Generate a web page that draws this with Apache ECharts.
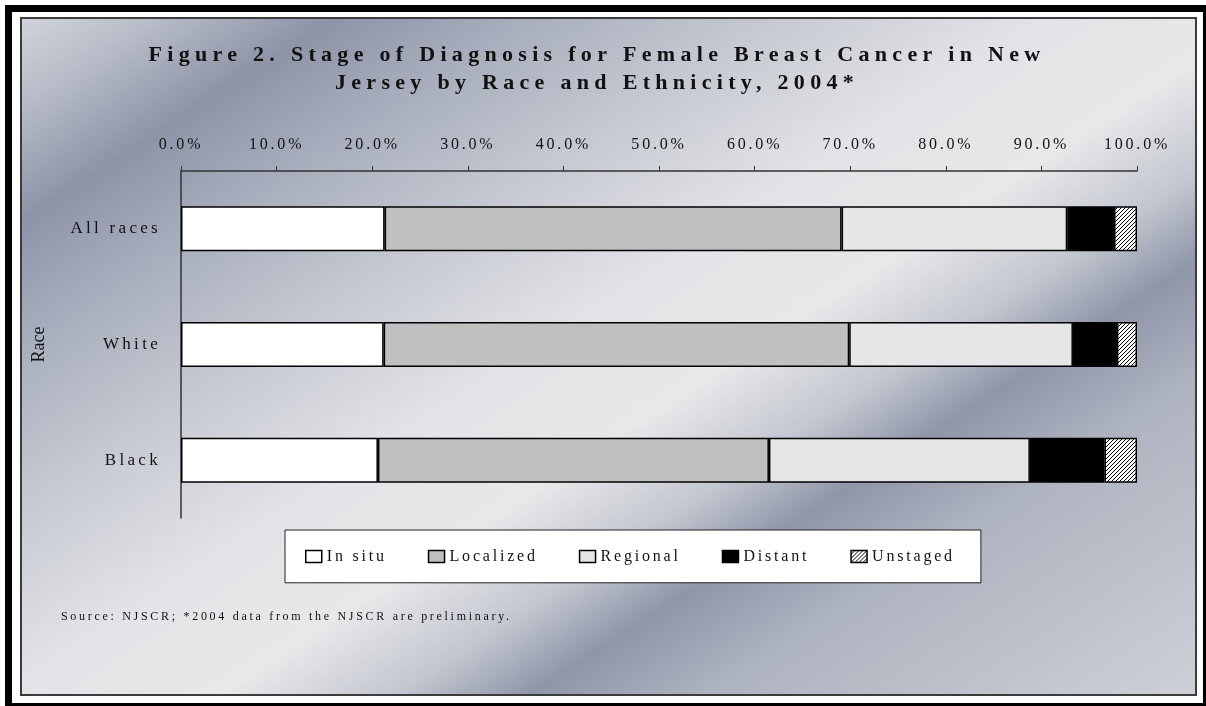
<!DOCTYPE html>
<html>
<head>
<meta charset="utf-8">
<title>Stage of Diagnosis for Female Breast Cancer in New Jersey</title>
<script src="https://cdn.jsdelivr.net/npm/echarts@6/dist/echarts.min.js"></script>
<style>
  body { margin: 0; background: #fff; overflow: hidden; }
  #frame { position: absolute; left: 5px; top: 5px; width: 1205px; height: 705px; box-sizing: border-box; border: 7px solid #000; }
  #wrap { position: absolute; left: 20px; top: 17px; width: 1177px; height: 679px; box-sizing: border-box; border: 2px solid #3c3c3c; }
  #main { width: 1173px; height: 675px; }
</style>
</head>
<body>
<div id="frame"></div>
<div id="wrap"><div id="main"></div></div>
<script>
// percent of cases by stage
const races = ['All races', 'White', 'Black'];
const inSitu = [21.3, 21.2, 20.6];
const localized = [47.8, 48.7, 40.9];
const regional = [23.6, 23.4, 27.3];
const distant = [4.9, 4.6, 7.8];
const unstaged = [2.4, 2.1, 3.4];
const stageNames = ['In situ', 'Localized', 'Regional', 'Distant', 'Unstaged'];

const serif = "'Liberation Serif', 'Times New Roman', serif";

// the original has wide tracking on most texts; canvas can do that per font size
const tracking = { 22: '5.3px', 17: '3.3px', 16: '2.8px', 12: '2.7px' };
['fillText', 'measureText'].forEach(function (name) {
  const orig = CanvasRenderingContext2D.prototype[name];
  CanvasRenderingContext2D.prototype[name] = function () {
    const m = /(\d+)px/.exec(this.font);
    this.letterSpacing = (m && tracking[m[1]]) || '0px';
    return orig.apply(this, arguments);
  };
});

// hatch fill for "Unstaged"
const hatch = document.createElement('canvas');
hatch.width = hatch.height = 4;
const hctx = hatch.getContext('2d');
hctx.fillStyle = '#fff';
hctx.fillRect(0, 0, 4, 4);
hctx.fillStyle = '#000';
for (let i = 0; i < 4; i++) {
  hctx.fillRect(i, 3 - i, 1, 1);
}

const fills = ['#ffffff', '#c0c0c0', '#e6e6e8', '#000000', { image: hatch, repeat: 'repeat' }];
const values = [inSitu, localized, regional, distant, unstaged];

const background = new echarts.graphic.LinearGradient(0, 0, 656, 1010, [
  { offset: 0, color: '#d0d3da' },
  { offset: 0.06, color: '#b8bcc8' },
  { offset: 0.14, color: '#8d94a7' },
  { offset: 0.22, color: '#a6acbb' },
  { offset: 0.34, color: '#c6c9d2' },
  { offset: 0.46, color: '#e2e3e6' },
  { offset: 0.56, color: '#e8e8ea' },
  { offset: 0.64, color: '#c2c6cf' },
  { offset: 0.70, color: '#8f96a9' },
  { offset: 0.78, color: '#aeb3c0' },
  { offset: 0.88, color: '#bcc0ca' },
  { offset: 1, color: '#cdd0d7' }
], true);

let myChart = echarts.init(document.getElementById('main'));

let option = {
  backgroundColor: background,
  animation: false,
  title: {
    text: 'Figure 2. Stage of Diagnosis for Female Breast Cancer in New\nJersey by Race and Ethnicity, 2004*',
    left: 575,
    top: 22,
    padding: 0,
    textAlign: 'center',
    textStyle: {
      fontFamily: serif,
      fontSize: 22,
      fontWeight: 'bold',
      lineHeight: 28,
      color: '#111'
    }
  },
  legend: {
    data: stageNames,
    left: 263,
    top: 511,
    padding: [17, 26, 17, 20],
    itemGap: 41,
    itemWidth: 16,
    itemHeight: 12,
    icon: 'rect',
    backgroundColor: '#fff',
    borderColor: '#222',
    borderWidth: 1,
    itemStyle: { borderColor: '#000', borderWidth: 1.5 },
    textStyle: { fontFamily: serif, fontSize: 16, color: '#111' }
  },
  graphic: [
    {
      type: 'text',
      left: 39,
      top: 590,
      style: {
        text: 'Source: NJSCR; *2004 data from the NJSCR are preliminary.',
        font: '12px ' + serif,
        fill: '#111'
      }
    }
  ],
  grid: {
    left: 157,
    top: 152,
    width: 958,
    height: 347
  },
  xAxis: {
    type: 'value',
    position: 'top',
    min: 0,
    max: 100,
    interval: 10,
    axisLine: { show: true, lineStyle: { color: '#333', width: 1.5 } },
    axisTick: { show: true, length: 5, lineStyle: { color: '#333' } },
    splitLine: { show: false },
    axisLabel: {
      margin: 17,
      formatter: function (v) { return v.toFixed(1) + '%'; },
      fontFamily: serif,
      fontSize: 16,
      color: '#111'
    }
  },
  yAxis: {
    type: 'category',
    data: races,
    inverse: true,
    name: 'Race',
    nameLocation: 'middle',
    nameGap: 133,
    nameTextStyle: { fontFamily: serif, fontSize: 18, color: '#111' },
    axisLine: { show: true, lineStyle: { color: '#333', width: 1.5 } },
    axisTick: { show: false },
    axisLabel: {
      margin: 20,
      interval: 0,
      fontFamily: serif,
      fontSize: 17,
      color: '#111'
    }
  },
  series: stageNames.map(function (name, i) {
    return {
      name: name,
      type: 'bar',
      stack: 'total',
      barWidth: 45,
      data: values[i],
      itemStyle: {
        color: fills[i],
        borderColor: '#000',
        borderWidth: 1.5
      },
      emphasis: { disabled: true }
    };
  })
};

myChart.setOption(option);
</script>
</body>
</html>
